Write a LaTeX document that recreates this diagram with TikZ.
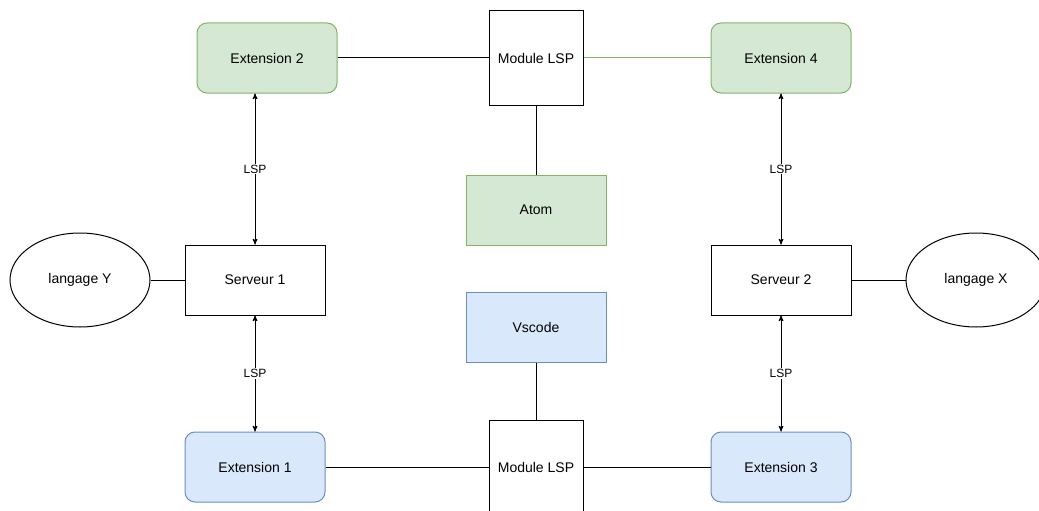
\documentclass[tikz,border=0pt]{standalone}
\usepackage{fontspec}
\setmainfont{Liberation Sans}
\usetikzlibrary{shapes}
\usetikzlibrary{arrows}
\definecolor{green_fill}{HTML}{D5E8D4}
\definecolor{green_draw}{HTML}{82B366}
\definecolor{blue_fill}{HTML}{DAE8FC}
\definecolor{blue_draw}{HTML}{6C8EBF}
\tikzset{
	box/.style = {
		align=center,
		inner sep=0pt,
		text centered,
		font=\fontsize{14}{16}\selectfont,
		draw=black,
		fill=white,
		line width=1pt,
		minimum width=140pt,
		minimum height=70pt
	},
	node_ext_g/.style = {
		box,
		fill=green_fill,
		draw=green_draw,
		rounded corners=10pt
	},
	node_ext_b/.style = {
		box,
		fill=blue_fill,
		draw=blue_draw,
		rounded corners=10pt
	},
	node_ide_g/.style = {
		box,
		fill=green_fill,
		draw=green_draw
	},
	node_ide_b/.style = {
		box,
		fill=blue_fill,
		draw=blue_draw
	},
	node_mod/.style = {
		box,
		minimum width=94pt,
		minimum height=94pt
	},
	node_lang/.style = {
		box,
		ellipse,
		minimum width=140pt,
		minimum height=94pt
	},
	lsp/.style = {
		fill=white,
		inner sep=1pt,
		font=\fontsize{12}{14}\selectfont
	},
}

\begin{document}
\begin{tikzpicture}[x=1pt,y=-1pt,>=stealth',line width=1pt]
\useasboundingbox (0,0) rectangle (1039,511);
% top row
\node [node_ext_g] (ext2) at (267,58) {Extension 2};
\node [node_mod] (mod_top) at (536,58) {Module LSP};
\node [node_ext_g] (ext4) at (781,58) {Extension 4};
\node [node_ide_g] (atom) at (536,210) {Atom};
% middle row
\node [node_lang] (lang_y) at (80,280) {langage Y};
\node [box] (serv1) at (255,280) {Serveur 1};
\node [box] (serv2) at (781,280) {Serveur 2};
\node [node_lang] (lang_x) at (976,280) {langage X};
\node [node_ide_b] (vscode) at (536,327) {Vscode};
% bottom row
\node [node_ext_b] (ext1) at (255,467) {Extension 1};
\node [node_mod] (mod_bot) at (536,467) {Module LSP};
\node [node_ext_b] (ext3) at (781,467) {Extension 3};

\draw (ext2) -- (mod_top);
\draw [green_draw] (mod_top) -- (ext4);
\draw (mod_top) -- (atom);
\draw (vscode) -- (mod_bot);
\draw (ext1) -- (mod_bot);
\draw (mod_bot) -- (ext3);
\draw (lang_y) -- (serv1);
\draw (serv2) -- (lang_x);

\draw [<->] (ext2.south -| serv1) -- node [lsp] {LSP} (serv1);
\draw [<->] (serv1) -- node [lsp] {LSP} (ext1);
\draw [<->] (ext4) -- node [lsp] {LSP} (serv2);
\draw [<->] (serv2) -- node [lsp] {LSP} (ext3);
\end{tikzpicture}
\end{document}
